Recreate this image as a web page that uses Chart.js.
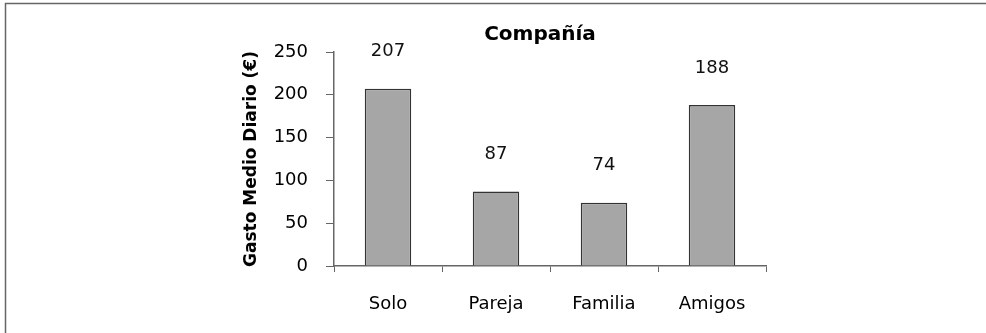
<!DOCTYPE html>
<html>
<head>
<meta charset="utf-8">
<title>Compañía</title>
<script src="https://cdn.jsdelivr.net/npm/chart.js@4.4.1/dist/chart.umd.min.js"></script>
<style>
  html, body { margin: 0; padding: 0; background: #fff; }
  #wrap { width: 986px; height: 333px; }
</style>
</head>
<body>
<div id="wrap"><canvas id="chart" width="986" height="333"></canvas></div>
<script>
const categories = ["Solo", "Pareja", "Familia", "Amigos"];
const gastoMedio = [207, 87, 74, 188];
const yTicks = [0, 50, 100, 150, 200, 250];
const chartTitle = 'Compañía';

// frame, title and the value labels above the bars
const extras = {
  id: 'extras',
  beforeDraw(chart) {
    const c = chart.ctx;
    c.save();
    c.fillStyle = '#fff';
    c.fillRect(0, 0, chart.width, chart.height);
    c.strokeStyle = '#666';
    c.lineWidth = 1.5;
    c.beginPath();
    c.moveTo(5.5, chart.height);
    c.lineTo(5.5, 3.5);
    c.lineTo(chart.width, 3.5);
    c.stroke();
    // title sits a bit left of the plot centre in the original
    c.font = 'bold 20px "DejaVu Sans"';
    c.fillStyle = '#000';
    c.textAlign = 'center';
    c.textBaseline = 'middle';
    c.fillText(chartTitle, 540, 35);
    c.restore();
  },
  afterDatasetsDraw(chart) {
    const c = chart.ctx;
    const meta = chart.getDatasetMeta(0);
    c.save();
    c.font = '18px "DejaVu Sans"';
    c.fillStyle = '#111';
    c.textAlign = 'center';
    c.textBaseline = 'middle';
    meta.data.forEach((bar, i) => {
      c.fillText(String(gastoMedio[i]), bar.x, bar.y - 37);
    });
    c.restore();
  }
};

new Chart(document.getElementById('chart'), {
  type: 'bar',
  data: {
    labels: categories,
    datasets: [{
      data: gastoMedio,
      backgroundColor: '#a6a6a6',
      borderColor: '#333',
      borderWidth: 1.5,
      barPercentage: 1,
      categoryPercentage: 0.43
    }]
  },
  options: {
    responsive: false,
    animation: false,
    layout: {
      padding: { left: 241, right: 220, top: 52, bottom: 0 }
    },
    plugins: {
      legend: { display: false },
      tooltip: { enabled: false },
      title: { display: false }
    },
    scales: {
      x: {
        afterFit(scale) { scale.height = 67; },
        grid: {
          offset: true,
          drawOnChartArea: false,
          tickLength: 6,
          color: (ctx) => ctx.index === categories.length ? 'rgba(0,0,0,0)' : '#666'
        },
        border: { color: '#666', width: 1.5 },
        ticks: {
          color: '#000',
          padding: 22,
          font: { family: '"DejaVu Sans"', size: 18 }
        }
      },
      y: {
        min: 0,
        max: 250,
        afterFit(scale) { scale.width = 93; },
        afterBuildTicks(scale) { scale.ticks = yTicks.map(v => ({ value: v })); },
        grid: {
          drawOnChartArea: false,
          tickLength: 8,
          color: '#666'
        },
        border: { color: '#666', width: 1.5 },
        ticks: {
          color: '#000',
          padding: 18,
          font: { family: '"DejaVu Sans"', size: 18 }
        },
        title: {
          display: true,
          text: 'Gasto Medio Diario (€)',
          color: '#000',
          font: { family: '"DejaVu Sans"', size: 17, weight: 'bold' },
          padding: 0
        }
      }
    }
  },
  plugins: [extras]
});
</script>
</body>
</html>
